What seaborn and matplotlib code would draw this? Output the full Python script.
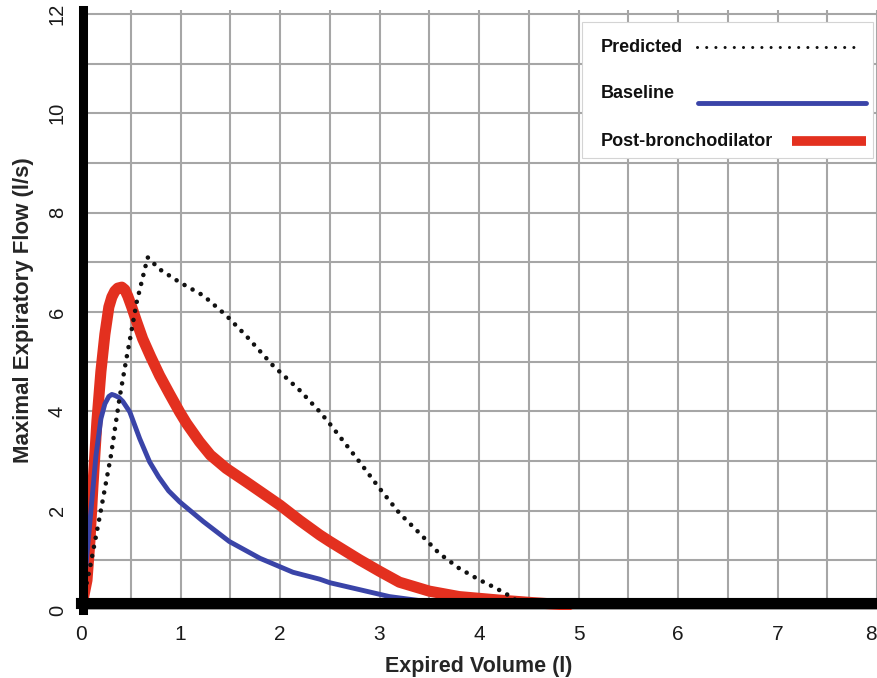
import numpy as np
import matplotlib
matplotlib.use("Agg")
import matplotlib.pyplot as plt
import seaborn as sns
from matplotlib.lines import Line2D
from matplotlib.patches import Rectangle

# Flow-volume curves
pred_vol = [0, 0.09, 0.19, 0.30, 0.39, 0.46, 0.56, 0.67, 0.79, 0.99, 1.23, 1.46, 1.66,
            1.93, 2.2, 2.4, 2.5, 2.8, 3.0, 3.2, 3.4, 3.6, 3.8, 4.0, 4.17, 4.32, 4.42]
pred_flow = [0, 0.85, 1.9, 3.1, 4.3, 5.1, 6.2, 7.1, 6.86, 6.6, 6.33, 5.93, 5.52,
             4.92, 4.42, 3.99, 3.75, 2.98, 2.45, 1.95, 1.55, 1.14, 0.84, 0.61, 0.44, 0.27, 0.12]

base_vol = [0, 0.05, 0.10, 0.15, 0.20, 0.24, 0.28, 0.31, 0.34, 0.38, 0.42, 0.49, 0.59,
            0.69, 0.78, 0.88, 0.99, 1.23, 1.49, 1.8, 2.13, 2.4, 2.5, 2.8, 3.1, 3.4, 3.7, 4.0]
base_flow = [0, 0.9, 2.0, 3.1, 3.85, 4.15, 4.3, 4.34, 4.32, 4.28, 4.2, 3.99, 3.45,
             2.98, 2.68, 2.4, 2.18, 1.78, 1.38, 1.04, 0.76, 0.62, 0.55, 0.41, 0.27, 0.19, 0.14, 0.1]

post_vol = [0, 0.06, 0.09, 0.12, 0.16, 0.20, 0.24, 0.28, 0.31, 0.34, 0.37, 0.41, 0.44,
            0.47, 0.51, 0.56, 0.62, 0.70, 0.79, 0.89, 0.99, 1.06, 1.19, 1.30, 1.46, 1.66,
            2.0, 2.2, 2.4, 2.5, 2.8, 3.0, 3.2, 3.5, 3.8, 4.2, 4.53, 4.9]
post_flow = [0, 0.6, 1.4, 2.5, 3.8, 4.8, 5.55, 6.1, 6.3, 6.42, 6.48, 6.5, 6.45,
             6.32, 6.1, 5.8, 5.46, 5.1, 4.72, 4.35, 3.99, 3.76, 3.39, 3.12, 2.85, 2.58,
             2.11, 1.8, 1.51, 1.38, 1.01, 0.78, 0.56, 0.38, 0.27, 0.2, 0.15, 0.1]

x_ticks = [0, 1, 2, 3, 4, 5, 6, 7, 8]
y_ticks = [0, 2, 4, 6, 8, 10, 12]

RED = '#e3301f'
BLUE = '#3a44a8'
GRID = '#a6a6a6'

sns.set_style("white")
plt.rcParams['font.family'] = ['Liberation Sans', 'DejaVu Sans']

fig = plt.figure(figsize=(8.77, 6.78), dpi=100)
ax = fig.add_axes([81 / 877, 68 / 678, 796 / 877, 600 / 678])

sns.lineplot(x=post_vol, y=post_flow, sort=False, ax=ax, color=RED,
             linewidth=8, solid_capstyle='round', solid_joinstyle='round', zorder=2)
sns.lineplot(x=base_vol, y=base_flow, sort=False, ax=ax, color=BLUE,
             linewidth=3.5, solid_capstyle='round', solid_joinstyle='round', zorder=2.1)
sns.lineplot(x=pred_vol, y=pred_flow, sort=False, ax=ax, color='#111111',
             linewidth=3.3, linestyle=(0, (0.01, 2.0)), dash_capstyle='round', zorder=2.2)

# thick black axes drawn just inside the data origin, as in the source figure
for side in ['top', 'right']:
    ax.spines[side].set_visible(False)
ax.spines['left'].set_position(('data', 0.025))
ax.spines['bottom'].set_position(('data', 0.15))
ax.spines['left'].set_linewidth(6.5)
ax.spines['bottom'].set_linewidth(8)
for side in ['left', 'bottom']:
    ax.spines[side].set_color('black')
    ax.spines[side].set_zorder(3)

ax.set_xlim(0, 8.0)
ax.set_ylim(0.04, 12.08)
ax.set_xticks(x_ticks)
ax.set_yticks(y_ticks)
ax.set_xticks(np.arange(0.5, 8.5, 1.0), minor=True)
ax.set_yticks(np.arange(1, 13, 2), minor=True)
ax.grid(True, which='both', color=GRID, linewidth=1.5, zorder=0)
ax.set_axisbelow(True)

ax.tick_params(axis='both', which='both', length=0)
ax.tick_params(axis='x', labelsize=15, pad=16, colors='#1a1a1a')
ax.tick_params(axis='y', labelsize=14.5, pad=12, colors='#1a1a1a', labelrotation=90)
for lbl in ax.get_yticklabels():
    lbl.set_va('center')
ax.get_xticklabels()[-1].set_ha('right')

ax.set_xlabel('Expired Volume (l)', fontsize=15.5, fontweight='bold', labelpad=9)
ax.set_ylabel('Maximal Expiratory Flow (l/s)', fontsize=16, fontweight='bold', labelpad=10)

# hand-made legend box (text first, then the line sample)
ax.add_patch(Rectangle((0.6294, 0.7533), 0.3656, 0.2267, transform=ax.transAxes,
                       facecolor='white', edgecolor='#d4d4d4', linewidth=0.8, zorder=5))
legend_rows = [
    ('Predicted', 0.9375, 0.9378, (0.7735, 0.9761),
     dict(color='#111111', linewidth=2.2, linestyle=(0, (0.01, 3.0)), dash_capstyle='round')),
    ('Baseline', 0.86, 0.8455, (0.7751, 0.9862),
     dict(color=BLUE, linewidth=3.5, solid_capstyle='round')),
    ('Post-bronchodilator', 0.7805, 0.7822, (0.8928, 0.9862),
     dict(color=RED, linewidth=7, solid_capstyle='butt')),
]
for label, ty, ly, (x0, x1), style in legend_rows:
    ax.text(0.6529, ty, label, transform=ax.transAxes, fontsize=13, fontweight='bold',
            va='center', ha='left', color='#111111', zorder=6)
    ax.add_line(Line2D([x0, x1], [ly, ly], transform=ax.transAxes, zorder=6, **style))

plt.savefig('out.png', dpi=100)
plt.close()
